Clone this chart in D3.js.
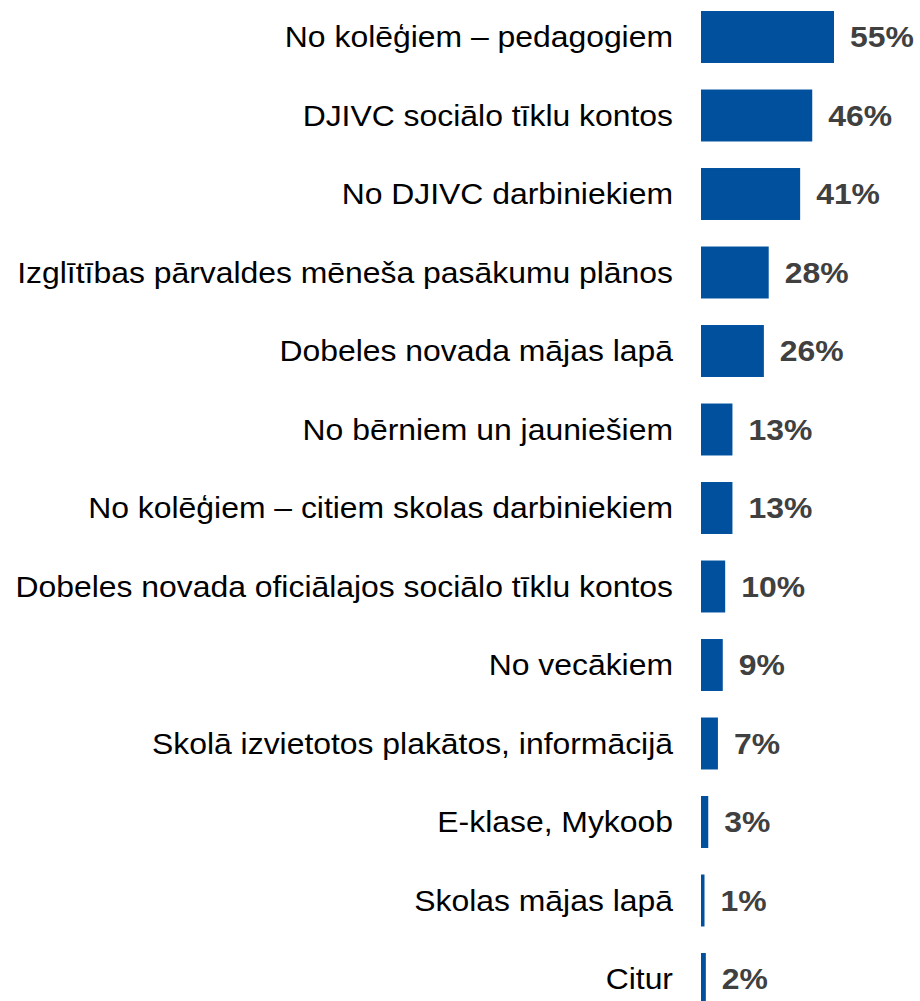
<!DOCTYPE html>
<html lang="en">
<head>
    <meta charset="UTF-8">
    <title>Chart</title>
    <script src="https://d3js.org/d3.v7.min.js"></script>
    <style>
        html, body {
            margin: 0;
            background: #fff;
        }
        svg text {
            font-family: "Liberation Sans", Arial, sans-serif;
        }
    </style>
</head>
<body>
    <div id="vis"></div>
    <script>
        // data
        var categories = [
            "No kolēģiem – pedagogiem",
            "DJIVC sociālo tīklu kontos",
            "No DJIVC darbiniekiem",
            "Izglītības pārvaldes mēneša pasākumu plānos",
            "Dobeles novada mājas lapā",
            "No bērniem un jauniešiem",
            "No kolēģiem – citiem skolas darbiniekiem",
            "Dobeles novada oficiālajos sociālo tīklu kontos",
            "No vecākiem",
            "Skolā izvietotos plakātos, informācijā",
            "E-klase, Mykoob",
            "Skolas mājas lapā",
            "Citur"
        ];
        var values = [55, 46, 41, 28, 26, 13, 13, 10, 9, 7, 3, 1, 2];

        var width = 920, height = 1001;
        var barLeft = 701;
        var stretch = 1.1; // text in the picture is a bit wider than plain Arial

        var data = categories.map(function(c, i) { return {name: c, value: values[i]}; });

        var svg = d3.select('#vis')
            .append('svg')
                .attr('width', width)
                .attr('height', height);

        var x = d3.scaleLinear()
            .domain([0, 55])
            .range([barLeft, 834]);

        var y = d3.scaleBand()
            .domain(categories)
            .range([-2.25, 1018.25])
            .paddingInner(0.338)
            .paddingOuter(0.169);

        function barEnd(d) {
            return x(0) + Math.max(x(d.value) - x(0), 3.5);
        }

        var row = svg.selectAll('.row')
            .data(data)
            .enter()
            .append('g')
                .attr('class', 'row');

        row.append('rect')
            .attr('x', x(0))
            .attr('y', function(d) { return y(d.name); })
            .attr('width', function(d) { return barEnd(d) - x(0); })
            .attr('height', y.bandwidth())
            .attr('fill', '#00509e');

        row.append('text')
            .attr('transform', function(d) {
                return 'translate(673,' + (y(d.name) + y.bandwidth() / 2) + ') scale(' + stretch + ',1)';
            })
            .attr('dy', '0.35em')
            .attr('text-anchor', 'end')
            .attr('font-size', '29px')
            .attr('fill', '#000')
            .text(function(d) { return d.name; });

        row.append('text')
            .attr('transform', function(d) {
                return 'translate(' + (barEnd(d) + 16) + ',' + (y(d.name) + y.bandwidth() / 2) + ') scale(' + stretch + ',1)';
            })
            .attr('dy', '0.35em')
            .attr('font-size', '29px')
            .attr('font-weight', 'bold')
            .attr('fill', '#404040')
            .text(function(d) { return d.value + '%'; });
    </script>
</body>
</html>
